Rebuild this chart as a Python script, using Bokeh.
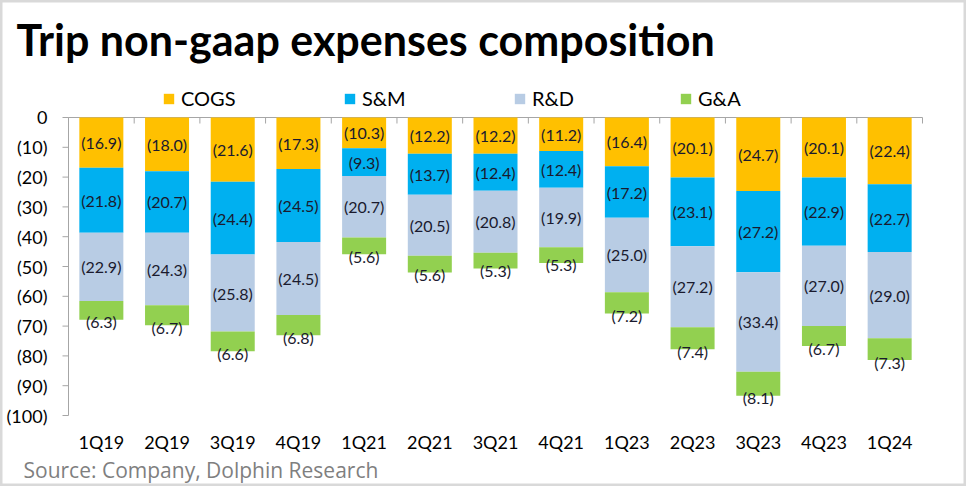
from bokeh.plotting import figure
from bokeh.models import Range1d, Legend, LegendItem, Label, ColumnDataSource
from bokeh.embed import file_html
from bokeh.resources import INLINE
from bokeh.core.properties import value

quarters = ["1Q19", "2Q19", "3Q19", "4Q19", "1Q21", "2Q21", "3Q21", "4Q21",
            "1Q23", "2Q23", "3Q23", "4Q23", "1Q24"]
cogs = [16.9, 18.0, 21.6, 17.3, 10.3, 12.2, 12.2, 11.2, 16.4, 20.1, 24.7, 20.1, 22.4]
sm = [21.8, 20.7, 24.4, 24.5, 9.3, 13.7, 12.4, 12.4, 17.2, 23.1, 27.2, 22.9, 22.7]
rd = [22.9, 24.3, 25.8, 24.5, 20.7, 20.5, 20.8, 19.9, 25.0, 27.2, 33.4, 27.0, 29.0]
ga = [6.3, 6.7, 6.6, 6.8, 5.6, 5.6, 5.3, 5.3, 7.2, 7.4, 8.1, 6.7, 7.3]
series_names = ["COGS", "S&M", "R&D", "G&A"]
series_colors = ["#FFC000", "#00B0F0", "#B8CCE4", "#92D050"]
y_ticks = [0, -10, -20, -30, -40, -50, -60, -70, -80, -90, -100]
y_tick_labels = ["0", "(10)", "(20)", "(30)", "(40)", "(50)", "(60)", "(70)", "(80)",
                 "(90)", "(100)"]

FONT = "Lato"
W, H = 966, 486
n = len(quarters)
xs = [i + 0.5 for i in range(n)]

# plot-area geometry in px (the frame covers the whole canvas)
LEFT_PX, RIGHT_PX = 68, 922
ZERO_PX, BOTTOM_PX = 117, 415
cw = (RIGHT_PX - LEFT_PX) / n                 # px per category
ppu = (BOTTOM_PX - ZERO_PX) / 100             # px per value unit

p = figure(width=W, height=H,
           x_range=Range1d(-LEFT_PX / cw, (W - LEFT_PX) / cw),
           y_range=Range1d(-100 - (H - BOTTOM_PX) / ppu, ZERO_PX / ppu),
           output_backend="svg", toolbar_location=None,
           x_axis_location=None, y_axis_location=None,
           min_border_left=0, min_border_right=0, min_border_top=0, min_border_bottom=0)
p.xgrid.grid_line_color = None
p.ygrid.grid_line_color = None
p.outline_line_color = "#D9D9D9"
p.outline_line_width = 4
p.background_fill_color = "white"
p.border_fill_color = "white"

AX = "#A6A6A6"
# value axis: line, outward ticks and labels
p.segment(x0=[0], y0=[0], x1=[0], y1=[-100], line_color=AX, line_width=1)
p.segment(x0=[0] * len(y_ticks), y0=y_ticks, x1=[-6 / cw] * len(y_ticks), y1=y_ticks,
          line_color=AX, line_width=1)
p.text(x=[0] * len(y_ticks), y=y_ticks, text=y_tick_labels, x_offset=-21,
       text_align="right", text_baseline="middle", text_font=value(FONT),
       text_font_size="18px", text_color="black")

# category axis line at zero with ticks between categories
edges = list(range(n + 1))
p.segment(x0=[0], y0=[0], x1=[n], y1=[0], line_color=AX, line_width=1)
p.segment(x0=edges, x1=edges, y0=[0] * len(edges), y1=[-6 / ppu] * len(edges),
          line_color=AX, line_width=1)
p.text(x=xs, y=[-100] * n, text=quarters, y_offset=26, text_align="center",
       text_baseline="middle", text_font=value(FONT), text_font_size="18px",
       text_color="black")

# stacked bars
vals = [cogs, sm, rd, ga]
cum = [0.0] * n
renderers = []
for name, color, v in zip(series_names, series_colors, vals):
    top = [-c for c in cum]
    bottom = [-(c + x) for c, x in zip(cum, v)]
    mid = [(t + b) / 2 for t, b in zip(top, bottom)]
    src = ColumnDataSource(dict(x=xs, top=top, bottom=bottom, mid=mid,
                                lab=[f"({x:.1f})" for x in v]))
    r = p.vbar(x="x", top="top", bottom="bottom", width=0.67, color=color, source=src,
               line_color=None)
    renderers.append(r)
    ly = "bottom" if name == "G&A" else "mid"
    p.text(x="x", y=ly, text="lab", source=src, text_align="center", text_baseline="middle",
           text_font=value(FONT), text_font_size="16px", text_color="#1a1a2e",
           y_offset=(2 if name == "G&A" else 0))
    cum = [c + x for c, x in zip(cum, v)]

# legend: one item each, placed like the reference
leg_x = [162, 343, 513, 679]
for name, r, lx in zip(series_names, renderers, leg_x):
    lg = Legend(items=[LegendItem(label=name, renderers=[r])], location=(lx, H - 110),
                orientation="horizontal", glyph_width=13, glyph_height=13,
                label_standoff=6, padding=0, margin=0, border_line_color=None,
                background_fill_alpha=0, label_text_font=FONT, label_text_font_size="20px",
                label_text_color="black")
    p.add_layout(lg, "center")

title = Label(x=16, y=H - 39, x_units="screen", y_units="screen",
              text="Trip non-gaap expenses composition", text_font=FONT,
              text_font_size="43px", text_font_style="bold", text_color="black",
              text_baseline="middle", text_align="left")
p.add_layout(title)
source = Label(x=23, y=H - 469, x_units="screen", y_units="screen",
               text="Source: Company, Dolphin Research", text_font="Open Sans",
               text_font_size="21px", text_color="#7F7F7F",
               text_baseline="middle", text_align="left")
p.add_layout(source)

open("out.html", "w").write(file_html(p, INLINE))
